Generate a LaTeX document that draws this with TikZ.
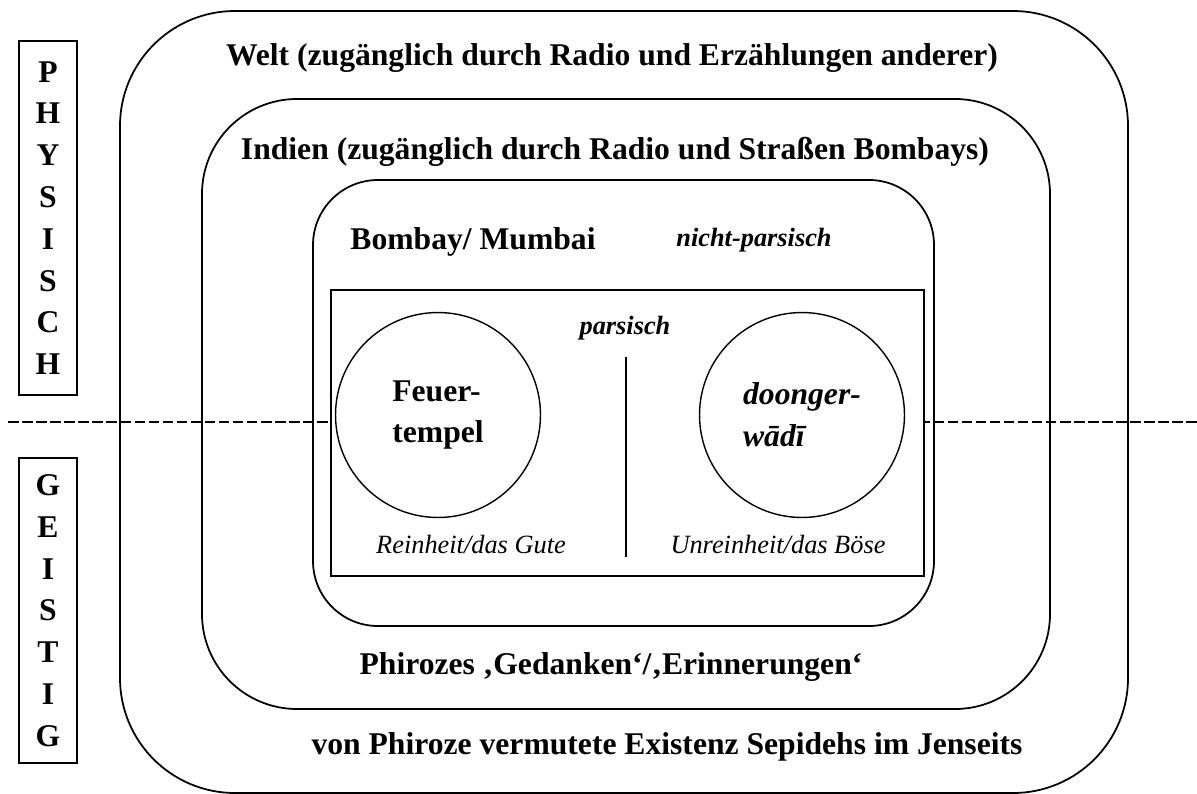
\documentclass[tikz,border=0pt]{standalone}
\usepackage{fontspec}
\setmainfont{Liberation Serif}

\tikzset{
    big/.style={font=\fontsize{18}{23.8}\selectfont\bfseries},
    bigit/.style={font=\fontsize{18}{23.8}\selectfont\bfseries\itshape},
    small/.style={font=\fontsize{15}{18}\selectfont\bfseries\itshape},
    note/.style={font=\fontsize{15}{18}\selectfont\itshape, text height=1.6ex, text depth=0.3ex},
    ring/.style={draw, circle, line width=0.8pt, minimum size=4.1cm, align=left},
    sidebox/.style={draw, line width=0.8pt, minimum width=1.16cm, align=center, big},
    dashline/.style={line width=1.4pt, dash pattern=on 6pt off 2pt},
}

\begin{document}
\begin{tikzpicture}[x=0.02cm, y=-0.02cm, line width=1pt]
\useasboundingbox (0,0) rectangle (1197,794);
% nested areas
\foreach \l/\t/\r/\b/\rad in {120/11/1128/793/2.3, 202/99/1050/709/1.9, 313/180/934/626/1.3} {%
    \draw [rounded corners=\rad cm] (\l,\t) rectangle (\r,\b);
}
\node [draw, line width=0.9pt, minimum width=11.86cm, minimum height=5.72cm] (parsi) at (627.5,433) {};
\node [ring, big] (feuer) at (438,415) {Feuer-\\tempel};
\node [ring, bigit] (doonger) at (802,415) {doonger-\\wādī};
\coordinate (vt) at (626,357);
\coordinate (vb) at (626,557);
\draw [line width=0.9pt] (vt) -- (vb);
% divide physisch / geistig
\coordinate (dl) at (8,422);
\coordinate (dr) at (1197,422);
\draw [dashline] (dl) -- (dl -| parsi.west);
\draw [dashline] (dr) -- (dr -| parsi.east);
\node [sidebox, minimum height=7.08cm] (phys) at (48,218) {P\\H\\Y\\S\\I\\S\\C\\H};
\node [sidebox, minimum height=6.1cm] (geist) at (48,610.5) {G\\E\\I\\S\\T\\I\\G};
% labels
\node [big] (welt) at (612,58) {Welt (zugänglich durch Radio und Erzählungen anderer)};
\node [big] (indien) at (615,152) {Indien (zugänglich durch Radio und Straßen Bombays)};
\node [big] (bombay) at (473,242) {Bombay/ Mumbai};
\node [small] (nichtp) at (754,240) {nicht-parsisch};
\node [small] (parsisch) at (625,328) {parsisch};
\node [note] (rein) at (471,548) {Reinheit/das Gute};
\node [note] (unrein) at (778,548) {Unreinheit/das Böse};
\node [big] (gedanken) at (611,667) {Phirozes ‚Gedanken‘/‚Erinnerungen‘};
\node [big] (jenseits) at (667,747) {von Phiroze vermutete Existenz Sepidehs im Jenseits};
\end{tikzpicture}
\end{document}
